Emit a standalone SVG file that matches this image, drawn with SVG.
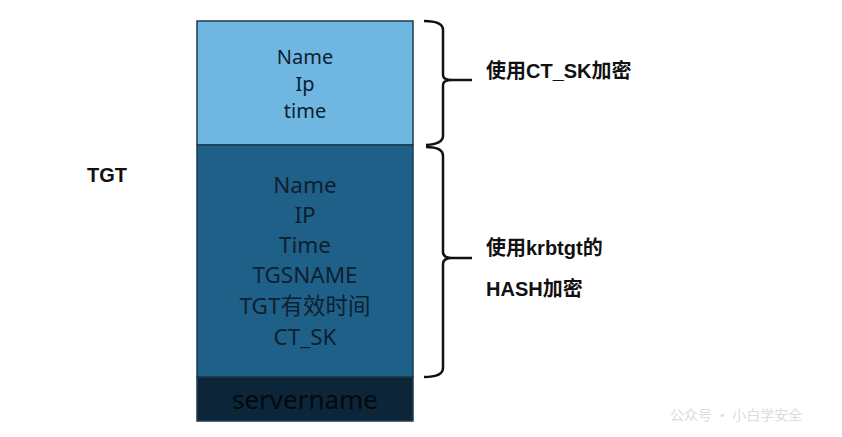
<svg xmlns="http://www.w3.org/2000/svg" width="842" height="437" viewBox="0 0 842 437">
<style>
.box{stroke:#1d3b50;stroke-width:1.5}
.t{font-family:"Noto Sans","Noto Sans CJK SC",sans-serif;text-anchor:middle;fill:#0d2030}
.dk{fill:#020a10}
.lbl{font-family:"Liberation Sans","Noto Sans CJK SC",sans-serif;font-weight:bold;font-size:20px;fill:#111}
.br{fill:none;stroke:#111;stroke-width:2.5}
</style>
<rect width="842" height="437" fill="#fff"/>
<g id="top">
<rect class="box" x="197" y="21" width="216" height="124" fill="#6fb7e0"/>
<text class="t" font-size="20" x="305" y="64">Name</text>
<text class="t" font-size="20" x="305" y="91">Ip</text>
<text class="t" font-size="20" x="305" y="118">time</text>
</g>
<g id="middle">
<rect class="box" x="197" y="145" width="216" height="232" fill="#1f6088"/>
<text class="t" font-size="22.5" x="305" y="193">Name</text>
<text class="t" font-size="22.5" x="305" y="223">IP</text>
<text class="t" font-size="22.5" x="305" y="253">Time</text>
<text class="t" font-size="22.5" x="305" y="283">TGSNAME</text>
<text class="t" font-size="22.5" x="305" y="314">TGT有效时间</text>
<text class="t" font-size="22.5" x="305" y="345">CT_SK</text>
</g>
<g id="bottom">
<rect class="box" x="197" y="377" width="216" height="44" fill="#0c2539"/>
<text class="t dk" font-size="26" x="305" y="409">servername</text>
</g>
<g id="tgt"><text class="lbl" x="87" y="182">TGT</text></g>
<g id="connectors">
<path class="br" d="M424,21 Q443,21 443,30 L443,75 Q443,80 452,80 L472,80 M452,80 Q443,80 443,85 L443,136 Q443,144 426,145"/>
<path class="br" d="M426,147 Q443,147 443,156 L443,252 Q443,258 452,258 L472,258 M452,258 Q443,258 443,264 L443,368 Q443,377 424,377"/>
</g>
<g id="labels">
<text class="lbl" x="486" y="78">使用CT_SK加密</text>
<text class="lbl" x="486" y="255">使用krbtgt的</text>
<text class="lbl" x="486" y="296">HASH加密</text>
</g>
<text x="670" y="420" font-family="Noto Sans CJK SC,sans-serif" font-size="14" fill="#dcdcdc">公众号 · 小白学安全</text>
</svg>
